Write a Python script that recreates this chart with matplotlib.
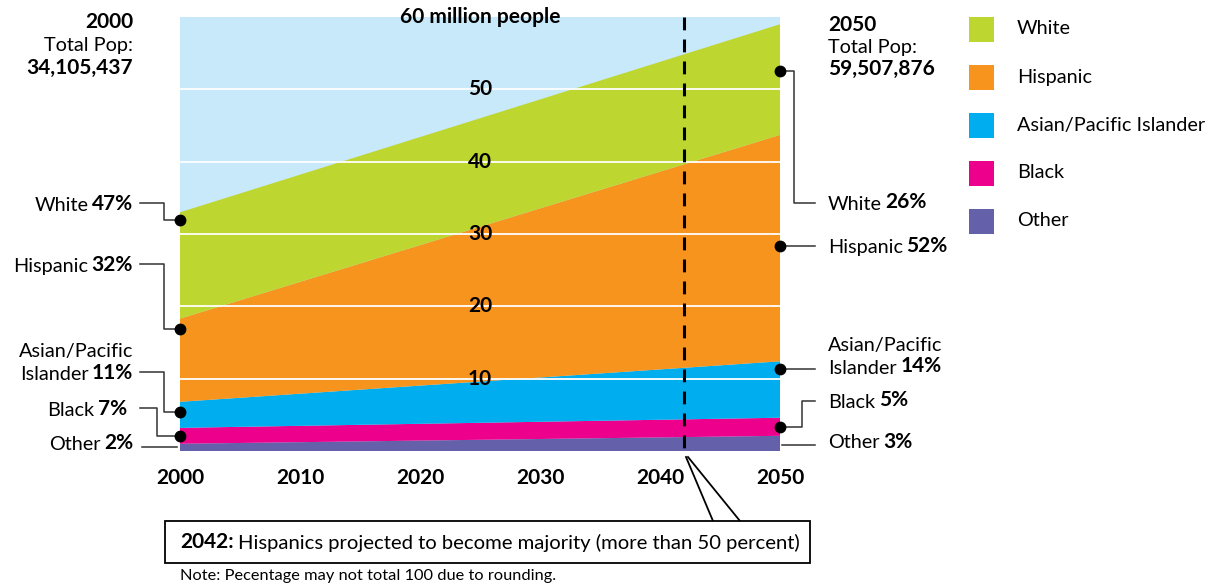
import numpy as np
import matplotlib
matplotlib.use('Agg')
import matplotlib.pyplot as plt
from matplotlib.patches import Rectangle

plt.rcParams['font.family'] = ['Lato', 'DejaVu Sans']

# data (millions of people)
years = [2000, 2050]
groups = ['Other', 'Black', 'Asian/Pacific Islander', 'Hispanic', 'White']
other = [1.0, 2.1]
black = [2.2, 2.5]
asian = [3.6, 7.8]
hispanic = [11.5, 31.3]
white = [14.7, 15.3]
colors = ['#6460AA', '#EC008C', '#00AEEF', '#F7941E', '#BED630']
sky = '#C7E9F9'

pct_2000 = [2, 7, 11, 32, 47]
pct_2050 = [3, 5, 14, 52, 26]
total_2000 = '34,105,437'
total_2050 = '59,507,876'
majority_year = 2042
grid_vals = [10, 20, 30, 40, 50]
xticks = [2000, 2010, 2020, 2030, 2040, 2050]

# where the marker dots sit inside each band (millions)
dots_2000 = [None, 2.1, 5.4, 16.9, 32.0]
dots_2050 = [None, 3.3, 11.3, 28.4, 52.6]

W, H = 1220, 585
FS, FSB = 14.3, 15

fig = plt.figure(figsize=(W / 100, H / 100), dpi=100)
ax = fig.add_axes([180 / W, (H - 451) / H, 600 / W, 434 / H])
ax.set_facecolor(sky)
ax.stackplot(years, other, black, asian, hispanic, white, colors=colors, lw=0)
ax.set_xlim(2000, 2050)
ax.set_ylim(0, 60)
for s in ax.spines.values():
    s.set_visible(False)
for v in grid_vals:
    ax.axhline(v, color='white', lw=1.3, zorder=3)
    ax.text(2025, v, str(v), ha='center', va='center', fontsize=FSB,
            weight='bold', zorder=4)
ax.text(2025, 60, '60 million people', ha='center', va='center', fontsize=FSB,
        weight='bold', zorder=4)
ax.set_yticks([])
ax.set_xticks(xticks)
ax.set_xticklabels([str(x) for x in xticks], fontsize=FSB, weight='bold')
ax.tick_params(axis='x', length=0, pad=12)
ax.plot([majority_year, majority_year], [60, -0.6], color='black', lw=2.2,
        ls=(0, (4.2, 3.0)), clip_on=False, zorder=5)

# overlay in pixel coords for annotations
ov = fig.add_axes([0, 0, 1, 1])
ov.set_xlim(0, W)
ov.set_ylim(H, 0)
ov.axis('off')
ov.patch.set_visible(False)


def to_px(year, val):
    x, y = ax.transData.transform((year, val))
    return x, H - y


LC = '#333333'


def left_label(x, y, name, pct):
    b = ov.text(x, y, f'{pct}%', ha='right', va='center', fontsize=FSB, weight='bold')
    ov.annotate(name, xy=(0, 0), xycoords=b, xytext=(-2.5, 0), textcoords='offset points',
                ha='right', va='bottom', fontsize=FS)


def right_label(x, y, name, pct):
    t = ov.text(x, y, name, ha='left', va='center', fontsize=FS)
    ov.annotate(f'{pct}%', xy=(1, 0), xycoords=t, xytext=(2.5, 0), textcoords='offset points',
                ha='left', va='bottom', fontsize=FSB, weight='bold')


# header texts
ov.text(133, 22, '2000', ha='right', va='center', fontsize=FSB, weight='bold')
ov.text(133, 45, 'Total Pop:', ha='right', va='center', fontsize=FS)
ov.text(133, 68, total_2000, ha='right', va='center', fontsize=FSB, weight='bold')
ov.text(828, 25, '2050', ha='left', va='center', fontsize=FSB, weight='bold')
ov.text(828, 47, 'Total Pop:', ha='left', va='center', fontsize=FS)
ov.text(828, 69, total_2050, ha='left', va='center', fontsize=FSB, weight='bold')

# left side labels
left_y = [443, 409, 373, 265, 204]
knee_l = [None, 157, 164, 164, 164]
names = ['Other', 'Black', 'Islander', 'Hispanic', 'White']
for i in range(5):
    ty = left_y[i]
    xr = 127 if i == 1 else 133
    left_label(xr, ty, names[i], pct_2000[i])
    if dots_2000[i] is None:
        ov.plot([142, 177], [ty + 4, ty + 4], color=LC, lw=1.1)
        continue
    dx, dy = to_px(2000, dots_2000[i])
    k = knee_l[i]
    ov.plot([140, k, k, dx], [ty - 1, ty - 1, dy, dy], color=LC, lw=1.1)
    ov.plot(dx, dy, 'o', color='black', ms=7.5, zorder=6)
ov.text(133, 352, 'Asian/Pacific', ha='right', va='center', fontsize=FS)

# right side labels
right_y = [443, 402, 368, 247, 204]
for i in range(5):
    ty = right_y[i]
    right_label(828, ty, names[i], pct_2050[i])
    if dots_2050[i] is None:
        ov.plot([782, 815], [ty + 2, ty + 2], color=LC, lw=1.1)
        continue
    dx, dy = to_px(2050, dots_2050[i])
    if i == 4:
        ov.plot([dx, 794, 794, 815], [dy, dy, ty - 1, ty - 1], color=LC, lw=1.1)
    elif i == 1:
        ov.plot([dx, 802, 802, 815], [dy, dy, ty - 1, ty - 1], color=LC, lw=1.1)
    else:
        ov.plot([dx, 815], [dy, dy], color=LC, lw=1.1)
    ov.plot(dx, dy, 'o', color='black', ms=7.5, zorder=6)
ov.text(828, 346, 'Asian/Pacific', ha='left', va='center', fontsize=FS)

# legend
leg_y = [221, 173, 125, 77, 29]
for i in range(5):
    ov.add_patch(Rectangle((969, leg_y[i] - 12.5), 25, 25, color=colors[i], lw=0))
    ov.text(1017, leg_y[i], groups[i], ha='left', va='center', fontsize=FS)

# callout
mx, _ = to_px(majority_year, 0)
ov.plot([mx + 2, 713], [457, 521], color='black', lw=1.3)
ov.plot([mx + 4, 740], [457, 521], color='black', lw=1.3)
ov.add_patch(Rectangle((165, 521), 645, 42, fill=True, facecolor='white',
                       edgecolor='black', lw=1.3, zorder=4))
b = ov.text(180, 542, f'{majority_year}:', ha='left', va='center', fontsize=FSB,
            weight='bold', zorder=5)
ov.annotate('Hispanics projected to become majority (more than 50 percent)',
            xy=(1, 0), xycoords=b, xytext=(3, 0), textcoords='offset points',
            ha='left', va='bottom', fontsize=14.6, zorder=5)
ov.text(180, 576, 'Note: Pecentage may not total 100 due to rounding.', ha='left',
        va='center', fontsize=11.8)

fig.savefig('out.png', dpi=100)
